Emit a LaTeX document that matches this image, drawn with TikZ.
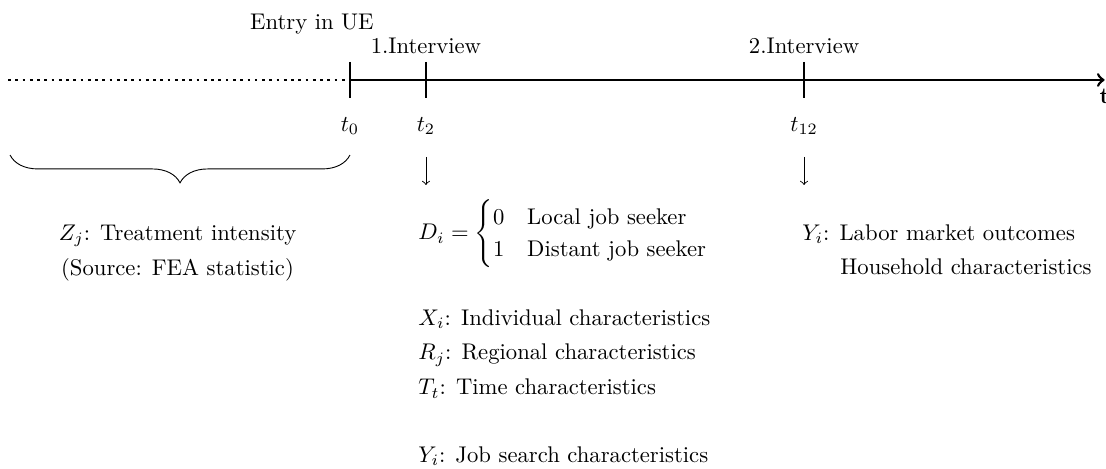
\documentclass[tikz,border=0pt]{standalone}
\usepackage{amsmath, amssymb}
\usepackage{tikz}
\usetikzlibrary{positioning, decorations.pathreplacing}

\begin{document}
\begin{tikzpicture}[txt/.style={inner sep=0pt}, axisline/.style={very thick}]
                \useasboundingbox (-5.426,1.240) rectangle (11.721,-6.016);
                \coordinate (start) at (-5.30,0);
                \coordinate (entry) at (0,0);
                \coordinate (finish) at (11.70,0);
                \draw[axisline, dotted] (start) -- (entry);
                \draw[axisline, ->] (entry) -- (finish) node[below] (tlab) {\textbf{t}};

                \foreach \x/\nm/\lab in {0/0/t_0, 1.178/2/t_2, 7.04/12/t_{12}}{
                  \draw[axisline] (\x,0.28) coordinate (top\nm) -- (\x,-0.28) coordinate (bot\nm);
                  \node[txt] (t\nm) at (\x,-0.713) {$\lab$};
                }
                \node[txt] (inUE) at (-0.59,0.868) {Entry in UE};
                \node[above] (int1) at (top2) {1.Interview};
                \node[above] (int2) at (top12) {2.Interview};

                \coordinate (braceR) at (0,-1.163);
                \coordinate (braceL) at (-5.27,-1.163);
                \draw[decorate, decoration={brace, amplitude=12.3pt}] (braceR) -- (braceL);

                \foreach \x/\nm in {1.178/2, 7.04/12}{
                  \draw[->] (\x,-1.194) coordinate (from\nm) -- (\x,-1.628) coordinate (to\nm);
                }

                \node[txt, anchor=base] (zj) at (-2.674,-2.481) {$Z_j$: Treatment intensity};
                \node[txt, anchor=base] (src) at (-2.674,-3.03) {(Source: FEA statistic)};

                \node[txt, anchor=west] (di) at (1.054,-2.388) {$D_i = \begin{cases} 0 & \text{Local job seeker}\\ 1 & \text{Distant job seeker} \end{cases}$};
                \node[txt, anchor=base west] (xi) at (1.054,-3.80) {$X_i$: Individual characteristics};
                \node[txt, anchor=base west] (rj) at (1.054,-4.341) {$R_j$: Regional characteristics};
                \node[txt, anchor=base west] (tt) at (1.054,-4.88) {$T_t$: Time characteristics};
                \node[txt, anchor=base west] (yjob) at (1.054,-5.93) {$Y_i$: Job search characteristics};

                \node[txt, anchor=base west] (ylab) at (7.008,-2.481) {$Y_i$: Labor market outcomes};
                \node[txt, anchor=base west] (hh) at (7.597,-3.023) {Household characteristics};
\end{tikzpicture}
\end{document}
